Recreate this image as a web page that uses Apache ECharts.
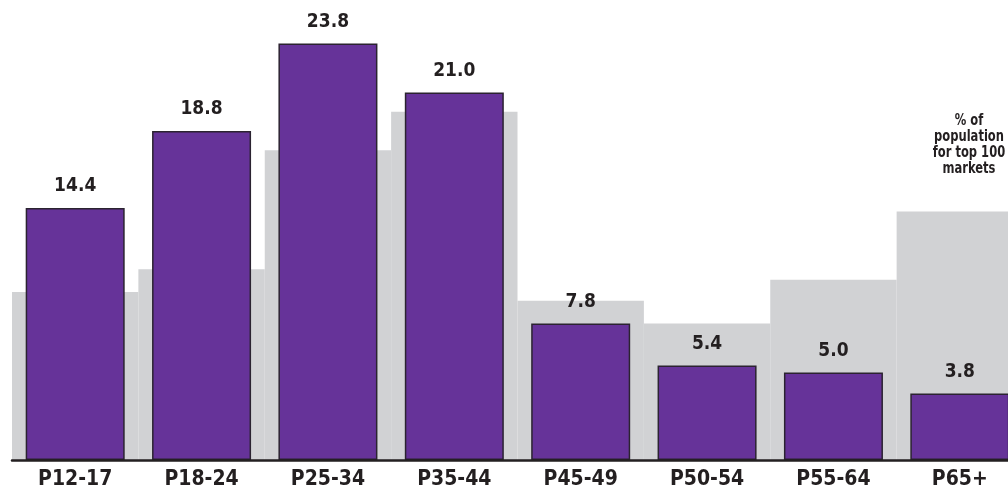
<!DOCTYPE html>
<html>
<head>
<meta charset="utf-8">
<script src="https://cdn.jsdelivr.net/npm/echarts@6/dist/echarts.min.js"></script>
<style>
html,body{margin:0;padding:0;background:#fff;overflow:hidden;}
#chart{width:1008px;height:493px;}
</style>
</head>
<body>
<div id="chart"></div>
<script>
const categories = ['P12-17','P18-24','P25-34','P35-44','P45-49','P50-54','P55-64','P65+'];
const audienceValues = [14.4, 18.8, 23.8, 21.0, 7.8, 5.4, 5.0, 3.8];
const populationValues = [9.6, 10.9, 17.7, 19.9, 9.1, 7.8, 10.3, 14.2];
const noteText = '% of\npopulation\nfor top 100\nmarkets';

const FONT = '"DejaVu Sans Condensed", "Liberation Sans Narrow", sans-serif';
const chart = echarts.init(document.getElementById('chart'), null, {renderer: 'canvas'});
chart.setOption({
  animation: false,
  backgroundColor: '#ffffff',
  grid: {left: 12, right: -15, top: 5, bottom: 33, outerBoundsMode: 'none'},
  xAxis: [
    {
      type: 'category', data: categories, position: 'bottom',
      axisLine: {show: true, lineStyle: {color: '#231f20', width: 2.5}},
      axisTick: {show: false},
      axisLabel: {color: '#231f20', fontFamily: FONT, fontSize: 21, fontWeight: 'bold', margin: 9},
      z: 10
    },
    {
      type: 'category', data: categories, show: false
    }
  ],
  yAxis: {
    type: 'value', min: 0, max: 26, show: false, splitLine: {show: false}
  },
  series: [
    {
      name: 'population', type: 'bar', xAxisIndex: 1, data: populationValues,
      barWidth: '100%', barCategoryGap: '0%',
      itemStyle: {color: '#d1d2d4'}, z: 1, silent: true
    },
    {
      name: 'audience', type: 'bar', xAxisIndex: 0, data: audienceValues,
      barWidth: 99,
      itemStyle: {color: '#663399', borderColor: '#2b2330', borderWidth: 1.5},
      label: {
        show: true, position: 'top', distance: 12,
        color: '#231f20', fontFamily: FONT, fontSize: 19, fontWeight: 'bold',
        formatter: p => p.value.toFixed(1)
      },
      z: 2
    }
  ],
  graphic: [
    {
      type: 'text', x: 969, y: 113, scaleX: 0.8, originX: 0, originY: 0,
      style: {
        text: noteText, fill: '#231f20', font: 'bold 16px ' + FONT,
        align: 'center', verticalAlign: 'top', lineHeight: 16
      }
    }
  ]
});
</script>
</body>
</html>
